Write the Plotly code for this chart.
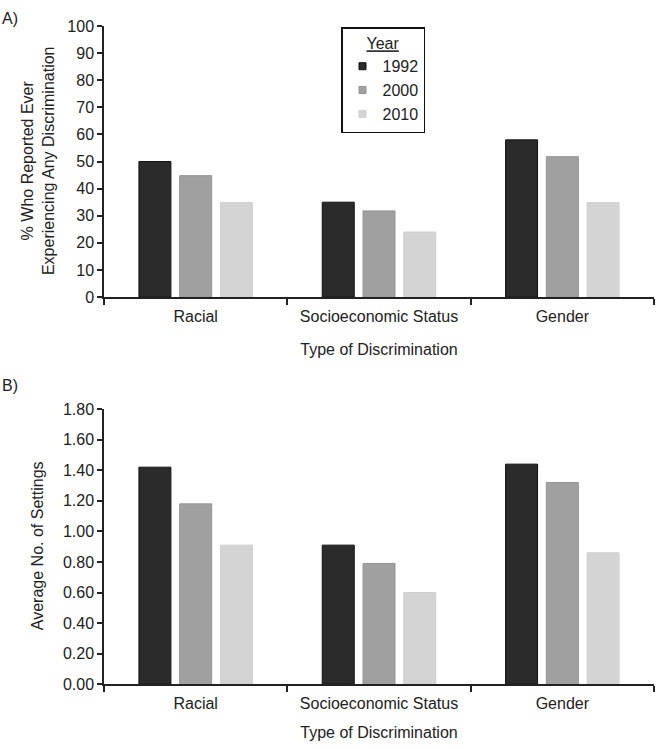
import plotly.graph_objects as go

categories = ["Racial", "Socioeconomic Status", "Gender"]
years = ["1992", "2000", "2010"]
pct_1992 = [50, 35, 58]
pct_2000 = [44.8, 31.8, 51.8]
pct_2010 = [34.9, 24.0, 34.9]
avg_1992 = [1.42, 0.91, 1.44]
avg_2000 = [1.18, 0.79, 1.32]
avg_2010 = [0.91, 0.60, 0.86]

fills = ["#2b2b2b", "#a0a0a0", "#d4d4d4"]
edges = ["#111111", "#959595", "#cfcfcf"]
FONT = "Liberation Sans, Arial, sans-serif"

W, H = 656, 749
def X(px):
    return min(1.0, max(0.0, px / W))
def Y(py):
    # compensate for the vertical offset/scale seen in the photographed page
    page = (py - 8) / 0.977
    return min(1.0, max(0.0, 1 - page / H))

fig = go.Figure()
for i, (y, vals) in enumerate(zip(years, [pct_1992, pct_2000, pct_2010])):
    fig.add_trace(go.Bar(x=categories, y=vals, name=y, marker=dict(color=fills[i], line=dict(color=edges[i], width=1)),
                         xaxis="x", yaxis="y", showlegend=False))
for i, (y, vals) in enumerate(zip(years, [avg_1992, avg_2000, avg_2010])):
    fig.add_trace(go.Bar(x=categories, y=vals, name=y, marker=dict(color=fills[i], line=dict(color=edges[i], width=1)),
                         xaxis="x2", yaxis="y2", showlegend=False))
for i, y in enumerate(years):
    fig.add_trace(go.Scatter(x=[None], y=[None], mode="markers", name=y, xaxis="x", yaxis="y",
                             marker=dict(symbol="square", size=7, color=fills[i], line=dict(color=edges[i], width=1)),
                             showlegend=True))

xd = [X(104), X(654)]
axis_common = dict(showline=True, linecolor="#222", linewidth=1.5, ticks="outside", tickcolor="#222",
                   tickwidth=1.5, showgrid=False, zeroline=False, tickfont=dict(size=16, color="#222", family=FONT))

fig.update_layout(
    width=W, height=H, margin=dict(l=0, r=0, t=0, b=0),
    paper_bgcolor="white", plot_bgcolor="white",
    font=dict(family=FONT, size=16, color="#222"),
    barmode="group", bargap=0.333, bargroupgap=0.215,
    xaxis=dict(domain=xd, anchor="y", range=[-0.5, 2.5], tickson="boundaries", ticklen=6, ticklabelstandoff=4,
               title=dict(text="Type of Discrimination", standoff=20, font=dict(size=16)), **axis_common),
    yaxis=dict(domain=[Y(297), Y(26)], anchor="x", range=[0, 100], dtick=10, ticklen=5, **axis_common),
    xaxis2=dict(domain=xd, anchor="y2", range=[-0.5, 2.5], tickson="boundaries", ticklen=6, ticklabelstandoff=4,
                title=dict(text="Type of Discrimination", standoff=16, font=dict(size=16)), **axis_common),
    yaxis2=dict(domain=[Y(684), Y(409)], anchor="x2", range=[0, 1.8], dtick=0.2, tickformat=".2f",
                ticklen=5, **axis_common),
    legend=dict(x=X(341), y=Y(27), xanchor="left", yanchor="top", bgcolor="white",
                bordercolor="#111", borderwidth=1.5, font=dict(size=16, color="#222"),
                title=dict(text="<u>Year</u>", side="top center", font=dict(size=16)),
                itemwidth=30, tracegroupgap=0),
    annotations=[
        dict(text="A)", x=X(0), y=1, xref="paper", yref="paper", xanchor="left", yanchor="top",
             showarrow=False, font=dict(size=16)),
        dict(text="B)", x=X(0), y=Y(385), xref="paper", yref="paper", xanchor="left", yanchor="middle",
             showarrow=False, font=dict(size=16)),
        dict(text="% Who Reported Ever<br>Experiencing Any Discrimination", x=X(38), y=Y(161),
             xref="paper", yref="paper", xanchor="center", yanchor="middle", textangle=-90,
             showarrow=False, font=dict(size=16)),
        dict(text="Average No. of Settings", x=X(37), y=Y(546),
             xref="paper", yref="paper", xanchor="center", yanchor="middle", textangle=-90,
             showarrow=False, font=dict(size=16)),
    ],
)

fig.write_html("out.html", config={"displayModeBar": False},
               post_script="document.body.style.margin='0px';document.body.style.overflow='hidden';")
